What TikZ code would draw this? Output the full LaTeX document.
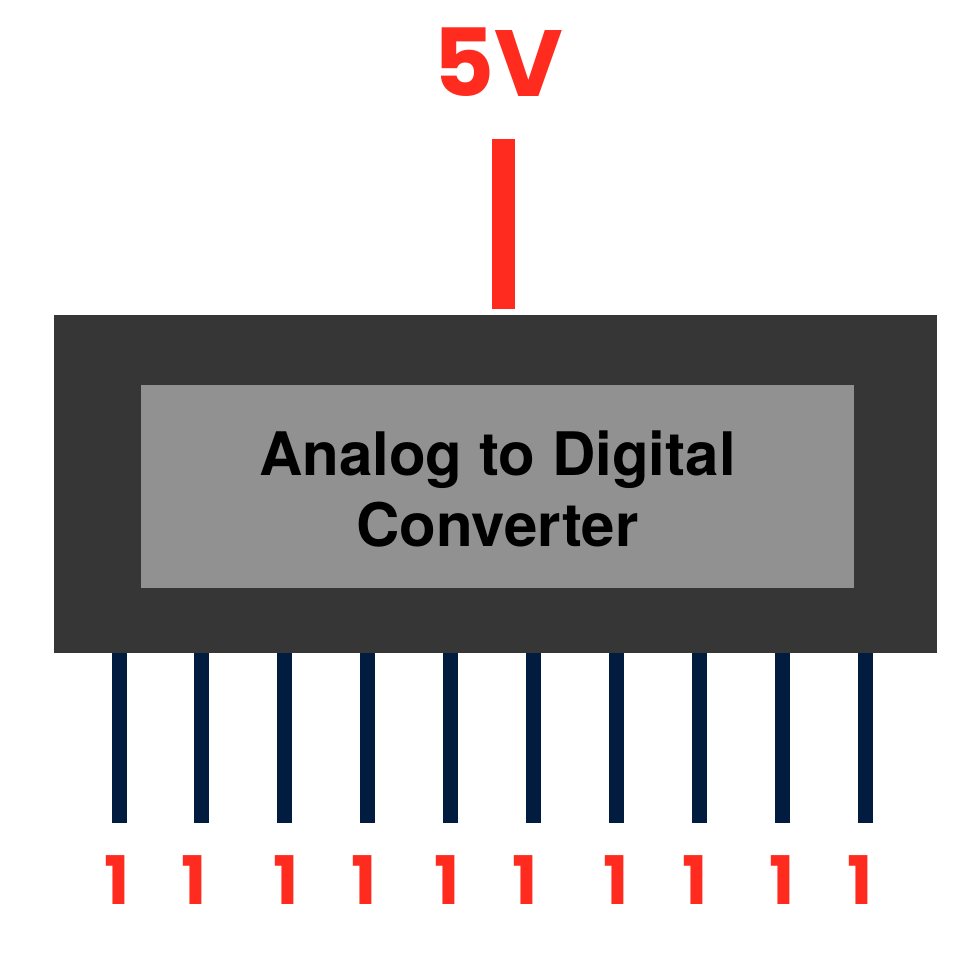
\documentclass[tikz,border=0pt]{standalone}
\usepackage{fontspec}
\setmainfont{TeX Gyre Heros}
\newfontfamily\redfont{Poppins}
\definecolor{boxdark}{HTML}{363636}
\definecolor{boxlight}{HTML}{919191}
\definecolor{pinnavy}{HTML}{021C3F}
\definecolor{vred}{HTML}{FF2B1F}
\tikzset{
  body/.style={fill=boxdark, draw=none, inner sep=0pt, minimum width=883pt, minimum height=338pt},
  panel/.style={fill=boxlight, draw=none, inner sep=0pt, minimum width=713pt, minimum height=203pt},
  title/.style={font=\fontsize{60}{71}\selectfont\bfseries, text=black, align=center, inner sep=0pt},
  pinline/.style={draw=pinnavy, line width=15pt},
  powerline/.style={draw=vred, line width=23pt},
  vlabel/.style={font=\redfont\bfseries\fontsize{94}{94}\selectfont, text=vred, inner sep=0pt, anchor=base},
  bitlabel/.style={font=\redfont\bfseries\fontsize{67}{67}\selectfont, text=vred, inner sep=0pt, anchor=base}
}
\begin{document}
\begin{tikzpicture}[x=1pt,y=-1pt]
\path[use as bounding box] (0,0) rectangle (972,954);
\node[body] (adc) at (495.5,484) {};
\node[panel] (panel) at (497.5,486.5) {};
\node[title] (txt) at (497.5,489) {Analog to Digital\\Converter};
\node[vlabel] (vin) at (498,96) {5V};
\coordinate (ptop) at (503.5,139);
\coordinate (pbot) at (503.5,309);
\draw[powerline] (ptop) -- (pbot);
\foreach \i/\px/\lx in {1/119/117.5, 2/201.5/194.5, 3/284.5/286.5, 4/367/364, 5/450/447, 6/533/525, 7/616/616, 8/699/695, 9/782/782.5, 10/865.5/860} {
  \coordinate (pt\i) at (\px,653);
  \coordinate (pb\i) at (\px,823);
  \draw[pinline] (pt\i) -- (pb\i);
  \node[bitlabel] (b\i) at (\lx,904) {1};
}
\end{tikzpicture}
\end{document}
